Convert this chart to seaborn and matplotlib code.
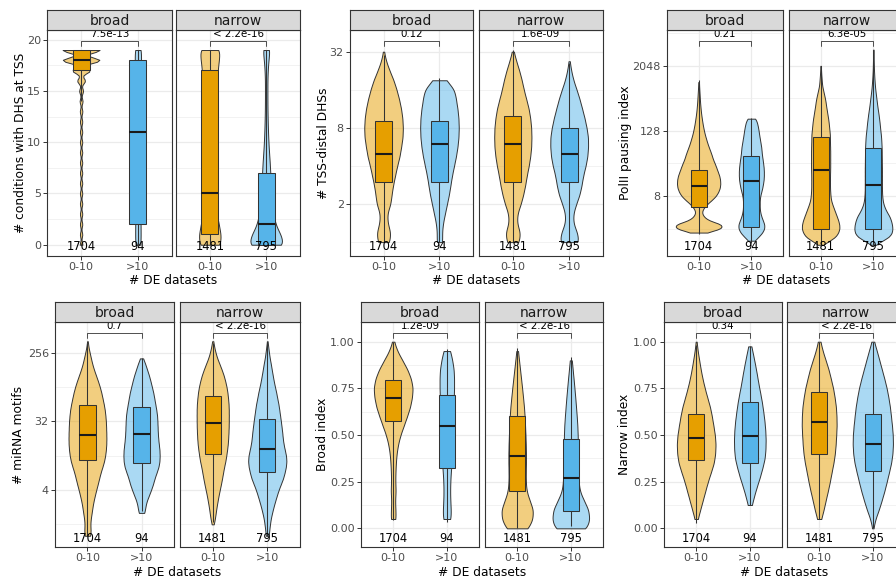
import numpy as np
import pandas as pd
import matplotlib
matplotlib.use("Agg")
import matplotlib.pyplot as plt
import seaborn as sns
from matplotlib.colors import to_rgba
from matplotlib.transforms import blended_transform_factory

# ------------------------------------------------------------------ data
groups = ["0-10", ">10"]
facets = ["broad", "narrow"]
n_genes = {"broad": [1704, 94], "narrow": [1481, 795]}
colors = ["#E69F00", "#56B4E9"]

# --- Plot 1: # conditions with DHS at TSS (integer values) ---
dhs_grid = [0, 1, 2, 3, 4, 5, 6, 7, 8, 9, 10, 11, 12, 13, 14, 15, 16, 17, 18, 19]
dhs_broad_lo = [1.4, 1.2, 1.2, 1.2, 1.2, 1.2, 1.2, 1.2, 1.2, 1.2, 1.2, 1.2, 1.2, 1.3, 1.5, 2.0, 4.0, 9.0, 19.0, 19.0]
dhs_broad_hi = [3, 3, 3, 2.5, 2.5, 2.5, 2.5, 2.5, 2.5, 2.5, 2.5, 2.5, 2.5, 2.5, 2.5, 2.5, 2.5, 3, 3.5, 3.5]
dhs_narrow_lo = [11, 11, 9, 7, 5.5, 5, 4.5, 4.5, 4.5, 4.5, 4.5, 4.5, 4.5, 4.8, 5.2, 6, 7, 8, 9, 10.5]
dhs_narrow_hi = [18, 14, 9, 7, 6, 5, 4.5, 4, 3.5, 2.8, 2.2, 1.8, 1.5, 1.3, 1.2, 1.2, 1.2, 1.5, 2.2, 3.5]
dhs_box_broad = [[14, 17, 18, 19, 19], [0, 2, 11, 18, 19]]
dhs_box_narrow = [[0, 1, 5, 17, 19], [0, 0, 2, 7, 19]]

# --- Plot 2: # TSS-distal DHSs (density profiles on log2 grid) ---
tss_grid_a = [0, 0.25, 0.5, 0.75, 1, 1.25, 1.5, 1.75, 2, 2.25, 2.5, 2.75, 3, 3.25, 3.5, 3.75, 4, 4.25, 4.5, 4.75, 5]
tss_grid_b = [0, 0.25, 0.5, 0.75, 1, 1.25, 1.5, 1.75, 2, 2.25, 2.5, 2.75, 3, 3.25, 3.5, 3.75, 4, 4.25]
tss_grid_c = [0, 0.25, 0.5, 0.75, 1, 1.25, 1.5, 1.75, 2, 2.25, 2.5, 2.75, 3, 3.25, 3.5, 3.75, 4, 4.25, 4.5, 4.75]
tss_broad_lo = [6, 7, 4, 3.5, 7, 8, 9.5, 11.5, 13.5, 16, 17.5, 19, 19.3, 18.8, 17.5, 15.5, 13, 10, 6, 2.5, 0.4]
tss_broad_hi = [3, 2.5, 3.5, 5.5, 7.5, 9.5, 11, 12.5, 14.5, 16.5, 18, 19, 19.3, 19, 18, 16.5, 15, 7]
tss_narrow_lo = [6.3, 7.5, 4, 4.5, 8, 10.5, 12.5, 14, 16, 17.5, 18.5, 18.7, 18.5, 17.5, 16, 13.5, 11, 9, 6.5, 3.5, 0.8]
tss_narrow_hi = [10, 8, 4, 4, 7, 10.5, 12.5, 14, 16.5, 18.3, 19, 19, 17.5, 15.5, 13, 10.5, 7.5, 4.2, 2, 0.5]
tss_box_broad = [[1, 3, 5, 9, 30], [1, 3, 6, 9, 20]]
tss_box_narrow = [[1, 3, 6, 10, 33], [1, 3, 5, 8, 26]]

# --- Plot 3: PolII pausing index (log2 grid) ---
pause_grid_bl = [0.75, 1, 1.25, 1.5, 1.75, 2, 2.25, 2.5, 2.75, 3, 3.25, 3.5, 3.75, 4, 4.25, 4.5, 4.75, 5, 5.25,
                 5.5, 5.75, 6, 6.25, 6.5, 6.75, 7, 7.25, 7.5, 7.75, 8, 8.25, 8.5, 8.75, 9, 9.25, 9.5, 9.75, 10]
pause_grid_bh = [0.25, 0.5, 0.75, 1, 1.25, 1.5, 1.75, 2, 2.25, 2.5, 2.75, 3, 3.25, 3.5, 3.75, 4, 4.25, 4.5, 4.75,
                 5, 5.25, 5.5, 5.75, 6, 6.25, 6.5, 6.75, 7, 7.25, 7.5, 7.75]
pause_grid_nl = [0, 0.25, 0.5, 0.75, 1, 1.25, 1.5, 1.75, 2, 2.25, 2.5, 2.75, 3, 3.25, 3.5, 3.75, 4, 4.25, 4.5, 4.75,
                 5, 5.25, 5.5, 5.75, 6, 6.25, 6.5, 6.75, 7, 7.25, 7.5, 7.75, 8, 8.25, 8.5, 8.75, 9, 9.25, 9.5, 9.75,
                 10, 10.25, 10.5, 10.75, 11]
pause_grid_nh = [0, 0.25, 0.5, 0.75, 1, 1.25, 1.5, 1.75, 2, 2.25, 2.5, 2.75, 3, 3.25, 3.5, 3.75, 4, 4.25, 4.5, 4.75,
                 5, 5.25, 5.5, 5.75, 6, 6.25, 6.5, 6.75, 7, 7.25, 7.5, 7.75, 8, 8.25, 8.5, 8.75, 9, 9.25, 9.5, 9.75,
                 10, 10.25, 10.5, 10.75, 11, 11.25, 11.5, 11.75, 12]
pause_broad_lo = [6, 20, 20, 8, 4, 2.5, 4, 7, 11, 14.5, 16.5, 17.8, 18.2, 18, 17.3, 16, 14.8, 13.5, 12, 11, 9.8, 8.5,
                  7.3, 6.3, 5.3, 4.5, 3.8, 3.2, 2.7, 2.2, 1.8, 1.5, 1.2, 1.0, 0.8, 0.6, 0.4, 0.3]
pause_broad_hi = [3, 7, 10.5, 12.5, 12.5, 11, 9.5, 8.5, 8, 8, 8, 8.5, 9.5, 10.5, 11.2, 11.8, 12, 12, 11.8, 11.3,
                  10.8, 10.2, 9.8, 9.5, 8.8, 8.2, 7.5, 7, 6.3, 5.5, 4]
pause_narrow_lo = [2, 9, 15, 17.5, 18.8, 18.5, 17.5, 16, 14.5, 13, 11.5, 10.3, 9.8, 9.5, 9.3, 9.3, 9.3, 9.3, 9.4, 9.5,
                   9.5, 9.5, 9.5, 9.5, 9.4, 9.3, 9.2, 9.2, 8.8, 8.4, 8, 7.5, 6.8, 6.2, 5.5, 5, 4.3, 3.4, 2.5, 1.6,
                   1.2, 0.9, 0.6, 0.4, 0.2]
pause_narrow_hi = [2, 9, 16, 18.5, 19, 18.5, 17.5, 16, 13.5, 11.5, 10, 9.2, 8.8, 8.6, 8.5, 8.5, 8.5, 8.5, 8.5, 8.5,
                   8.4, 8.4, 8.3, 8.3, 8.2, 8, 7.8, 7.5, 7, 6.6, 6.2, 5.7, 5.2, 4.6, 4, 3.5, 3, 2.5, 2, 1.6,
                   1.3, 1, 0.8, 0.6, 0.5, 0.4, 0.3, 0.2, 0.1]
pause_box_broad = [[1.6, 5, 12, 24, 1100], [1.1, 2.1, 15, 43, 220]]
pause_box_narrow = [[1, 2, 24, 100, 2000], [1, 2, 13, 63, 4000]]

# --- Plot 4: # miRNA motifs (log2 grid) ---
mir_grid_a = [0, 0.25, 0.5, 0.75, 1, 1.25, 1.5, 1.75, 2, 2.25, 2.5, 2.75, 3, 3.25, 3.5, 3.75, 4, 4.25, 4.5, 4.75,
              5, 5.25, 5.5, 5.75, 6, 6.25, 6.5, 6.75, 7, 7.25, 7.5, 7.75, 8, 8.25, 8.5]
mir_grid_bh = [1, 1.25, 1.5, 1.75, 2, 2.25, 2.5, 2.75, 3, 3.25, 3.5, 3.75, 4, 4.25, 4.5, 4.75, 5, 5.25, 5.5, 5.75,
               6, 6.25, 6.5, 6.75, 7, 7.25, 7.5, 7.75]
mir_grid_nl = [0.5, 0.75, 1, 1.25, 1.5, 1.75, 2, 2.25, 2.5, 2.75, 3, 3.25, 3.5, 3.75, 4, 4.25, 4.5, 4.75, 5, 5.25,
               5.5, 5.75, 6, 6.25, 6.5, 6.75, 7, 7.25, 7.5, 7.75, 8, 8.25, 8.5]
mir_broad_lo = [3, 3.2, 2.8, 3.3, 4.2, 5, 6, 7.3, 8.7, 10.2, 11.6, 13, 14.8, 16.5, 17.6, 18.3, 18.7, 18.8, 18.7, 18.5,
                18.3, 17.8, 17.2, 16.2, 15, 13.8, 12.3, 10.5, 8.5, 6.5, 4.8, 3.5, 2.2, 1, 0.3]
mir_broad_hi = [3, 3.8, 5, 7.3, 9.5, 11.5, 13, 15, 17, 18, 18.2, 18, 17.3, 16.7, 16.3, 16.1, 15.9, 15.6, 14.8, 13.8,
                12.8, 11.8, 10.4, 9, 7.5, 5.6, 3.8, 1.5]
mir_narrow_lo = [1, 2.2, 3, 3.8, 4.8, 5.8, 7, 8.2, 9.3, 10.3, 11.3, 12.6, 13.5, 14.3, 15, 15.4, 15.7, 15.9, 16, 16,
                 16, 15.8, 15.3, 14.7, 13.8, 12.5, 11, 9, 6.8, 4.5, 2.8, 1.5, 0.5]
mir_narrow_hi = [1.5, 2, 2.7, 3.5, 4.8, 6.2, 7.8, 9.5, 11.3, 13.5, 15.8, 17.3, 18.6, 19.2, 18.8, 17.5, 16.3, 15.5, 15,
                 14.3, 13.6, 12.8, 12, 11.2, 10, 9, 7.7, 6.5, 5.5, 4.5, 3.6, 2.5, 1.7, 1, 0.3]
mir_box_broad = [[1, 10, 21, 52, 340], [2.1, 9, 22, 50, 220]]
mir_box_narrow = [[1.5, 12, 30, 69, 345], [1, 7, 14, 34, 355]]

# --- Plot 5: Broad index ---
bidx_grid_bl = [0.05, 0.1, 0.15, 0.2, 0.25, 0.3, 0.35, 0.4, 0.45, 0.5, 0.55, 0.6, 0.65, 0.7, 0.75, 0.8, 0.85, 0.9, 0.95, 1.0]
bidx_grid_bh = [0.05, 0.1, 0.15, 0.2, 0.25, 0.3, 0.35, 0.4, 0.45, 0.5, 0.55, 0.6, 0.65, 0.7, 0.75, 0.8, 0.85, 0.9, 0.95]
bidx_grid_nl = [0.0, 0.05, 0.1, 0.15, 0.2, 0.25, 0.3, 0.35, 0.4, 0.45, 0.5, 0.55, 0.6, 0.65, 0.7, 0.75, 0.8, 0.85, 0.9, 0.95]
bidx_grid_nh = [0.0, 0.05, 0.1, 0.15, 0.2, 0.25, 0.3, 0.35, 0.4, 0.45, 0.5, 0.55, 0.6, 0.65, 0.7, 0.75, 0.8, 0.85, 0.9]
bidx_broad_lo = [2.5, 2.2, 1.8, 2.5, 2, 2.2, 2.6, 3.3, 4.7, 7, 10.3, 13.5, 16.5, 18.3, 19.2, 17.5, 14, 9, 4, 0.8]
bidx_broad_hi = [4, 4, 3.5, 3.3, 3.5, 4, 4.8, 5.3, 5.6, 5.8, 6, 6.3, 6.7, 7, 7.3, 7.3, 7, 5.5, 3.5]
bidx_narrow_lo = [11, 15, 15.5, 12, 9, 8.3, 8.3, 8.5, 8.5, 8.3, 8, 7.6, 7.2, 6.6, 5.7, 4.8, 3.8, 2.8, 1.8, 0.8]
bidx_narrow_hi = [16, 18, 17, 12.5, 8.5, 7.5, 7.3, 7.2, 7, 6.8, 6.6, 6.3, 5.7, 5, 4.3, 3.5, 2.7, 1.8, 1]
bidx_box_broad = [[0.045, 0.573, 0.70, 0.795, 1.0], [0.035, 0.321, 0.548, 0.715, 0.96]]
bidx_box_narrow = [[0.0, 0.198, 0.39, 0.603, 0.964], [0.01, 0.093, 0.271, 0.478, 0.92]]

# --- Plot 6: Narrow index ---
nidx_grid_bl = [0.05, 0.1, 0.15, 0.2, 0.25, 0.3, 0.35, 0.4, 0.45, 0.5, 0.55, 0.6, 0.65, 0.7, 0.75, 0.8, 0.85, 0.9, 0.95, 1.0]
nidx_grid_bh = [0.125, 0.175, 0.225, 0.275, 0.325, 0.375, 0.425, 0.475, 0.525, 0.575, 0.625, 0.675, 0.725, 0.775,
                0.825, 0.875, 0.925, 0.975]
nidx_grid_nh = [0.0, 0.05, 0.1, 0.15, 0.2, 0.25, 0.3, 0.35, 0.4, 0.45, 0.5, 0.55, 0.6, 0.65, 0.7, 0.75, 0.8, 0.85,
                0.9, 0.95, 1.0]
nidx_broad_lo = [1.5, 4, 6.5, 9, 11.5, 14.5, 17.5, 18.8, 19.2, 18.5, 17, 15.5, 13.7, 11, 8.5, 6.3, 4.5, 3, 1.5, 0.4]
nidx_broad_hi = [2, 4.3, 7, 10, 12.5, 14.8, 15.5, 15.7, 15.3, 14.5, 13.3, 12, 10.3, 8.5, 7, 5.3, 3.5, 1.5]
nidx_narrow_lo = [2, 4.5, 6.5, 8.7, 10.7, 12.4, 14.3, 15.7, 16.5, 17, 17.5, 17.3, 16.8, 15.5, 14, 11.7, 9.5, 6.5, 3.5, 1.2]
nidx_narrow_hi = [0.5, 2.5, 6, 8.8, 11.5, 13.8, 16, 18.2, 19.5, 20, 19.8, 19, 18, 17, 15.5, 13.8, 11.5, 9, 6.5, 4, 1.2]
nidx_box_broad = [[0.027, 0.366, 0.484, 0.614, 0.982], [0.125, 0.351, 0.496, 0.675, 0.975]]
nidx_box_narrow = [[0.048, 0.396, 0.568, 0.731, 1.0], [0.0, 0.307, 0.453, 0.612, 1.0]]

# p-value labels (broad, narrow)
pv_dhs = ["7.5e-13", "< 2.2e-16"]
pv_tss = ["0.12", "1.6e-09"]
pv_pause = ["0.21", "6.3e-05"]
pv_mir = ["0.7", "< 2.2e-16"]
pv_bidx = ["1.2e-09", "< 2.2e-16"]
pv_nidx = ["0.34", "< 2.2e-16"]

# ------------------------------------------------------------------ plot specs
plots = [
    dict(ylabel="# conditions with DHS at TSS", log2=False,
         grids={"broad": [dhs_grid, dhs_grid], "narrow": [dhs_grid, dhs_grid]},
         dens={"broad": [dhs_broad_lo, dhs_broad_hi], "narrow": [dhs_narrow_lo, dhs_narrow_hi]},
         boxes={"broad": dhs_box_broad, "narrow": dhs_box_narrow}, pv=pv_dhs,
         bw={"broad": [0.27, 0.6], "narrow": [0.6, 0.6]},
         vw={"broad": [0.65, 0.11], "narrow": [0.38, 0.56]},
         ylim=(-1.1, 20.95), yticks=[0, 5, 10, 15, 20], minor=[2.5, 7.5, 12.5, 17.5],
         row=0, cols=[(47, 172), (176, 300)], ylab_x=20),
    dict(ylabel="# TSS-distal DHSs", log2=True,
         grids={"broad": [tss_grid_a, tss_grid_b], "narrow": [tss_grid_a, tss_grid_c]},
         dens={"broad": [tss_broad_lo, tss_broad_hi], "narrow": [tss_narrow_lo, tss_narrow_hi]},
         boxes={"broad": tss_box_broad, "narrow": tss_box_narrow}, pv=pv_tss,
         bw={"broad": [0.15, 0.15], "narrow": [0.15, 0.15]},
         vw={"broad": [0.69, 0.69], "narrow": [0.66, 0.67]},
         ylim=(-0.365, 5.57), yticks=[1, 3, 5], minor=[0, 2, 4],
         row=0, cols=[(350, 473), (479, 603)], ylab_x=323),
    dict(ylabel="PolII pausing index", log2=True,
         grids={"broad": [pause_grid_bl, pause_grid_bh], "narrow": [pause_grid_nl, pause_grid_nh]},
         dens={"broad": [pause_broad_lo, pause_broad_hi], "narrow": [pause_narrow_lo, pause_narrow_hi]},
         boxes={"broad": pause_box_broad, "narrow": pause_box_narrow}, pv=pv_pause,
         bw={"broad": [0.15, 0.15], "narrow": [0.15, 0.15]},
         vw={"broad": [0.87, 0.49], "narrow": [0.71, 0.72]},
         ylim=(-0.69, 13.2), yticks=[3, 7, 11], minor=[1, 5, 9, 13],
         row=0, cols=[(667, 783), (789, 905)], ylab_x=625),
    dict(ylabel="# miRNA motifs", log2=True,
         grids={"broad": [mir_grid_a, mir_grid_bh], "narrow": [mir_grid_nl, mir_grid_a]},
         dens={"broad": [mir_broad_lo, mir_broad_hi], "narrow": [mir_narrow_lo, mir_narrow_hi]},
         boxes={"broad": mir_box_broad, "narrow": mir_box_narrow}, pv=pv_mir,
         bw={"broad": [0.15, 0.15], "narrow": [0.15, 0.15]},
         vw={"broad": [0.70, 0.67], "narrow": [0.59, 0.70]},
         ylim=(-0.49, 9.34), yticks=[2, 5, 8], minor=[0.5, 3.5, 6.5],
         row=1, cols=[(55, 174), (180, 300)], ylab_x=18),
    dict(ylabel="Broad index", log2=False,
         grids={"broad": [bidx_grid_bl, bidx_grid_bh], "narrow": [bidx_grid_nl, bidx_grid_nh]},
         dens={"broad": [bidx_broad_lo, bidx_broad_hi], "narrow": [bidx_narrow_lo, bidx_narrow_hi]},
         boxes={"broad": bidx_box_broad, "narrow": bidx_box_narrow}, pv=pv_bidx,
         bw={"broad": [0.03, 0.03], "narrow": [0.03, 0.03]},
         vw={"broad": [0.72, 0.27], "narrow": [0.58, 0.68]},
         ylim=(-0.1, 1.1056), yticks=[0, 0.25, 0.5, 0.75, 1.0], minor=[0.125, 0.375, 0.625, 0.875],
         row=1, cols=[(361, 479), (485, 603)], ylab_x=322),
    dict(ylabel="Narrow index", log2=False,
         grids={"broad": [nidx_grid_bl, nidx_grid_bh], "narrow": [nidx_grid_bl, nidx_grid_nh]},
         dens={"broad": [nidx_broad_lo, nidx_broad_hi], "narrow": [nidx_narrow_lo, nidx_narrow_hi]},
         boxes={"broad": nidx_box_broad, "narrow": nidx_box_narrow}, pv=pv_nidx,
         bw={"broad": [0.03, 0.03], "narrow": [0.03, 0.03]},
         vw={"broad": [0.72, 0.59], "narrow": [0.65, 0.75]},
         ylim=(-0.1, 1.1056), yticks=[0, 0.25, 0.5, 0.75, 1.0], minor=[0.125, 0.375, 0.625, 0.875],
         row=1, cols=[(664, 782), (787, 905)], ylab_x=624),
]

# ------------------------------------------------------------------ style / layout
sns.set_theme(style="white")
plt.rcParams["font.family"] = ["DejaVu Sans"]

W, H = 896, 580
fig = plt.figure(figsize=(W / 100, H / 100), dpi=100)
fig.patch.set_facecolor("white")

ROWS = [dict(strip=(9.5, 30), panel=(30, 256), xlab=280),
        dict(strip=(302, 322), panel=(322, 547), xlab=572)]
EDGE = "#333333"
GRID = "#EBEBEB"


def px_rect(x0, x1, y0, y1):
    return [x0 / W, 1 - y1 / H, (x1 - x0) / W, (y1 - y0) / H]


def tick_label(v, spec):
    if spec["log2"]:
        return str(int(round(2 ** v)))
    if spec["ylim"][1] < 2:
        return f"{v:.2f}"
    return str(int(v))


for spec in plots:
    row = ROWS[spec["row"]]
    for fi, facet in enumerate(facets):
        x0, x1 = spec["cols"][fi]
        ax = fig.add_axes(px_rect(x0, x1, *row["panel"]))
        sax = fig.add_axes(px_rect(x0, x1, *row["strip"]))

        # violins
        for gi in range(2):
            grid = np.asarray(spec["grids"][facet][gi], float)
            dens = np.asarray(spec["dens"][facet][gi], float)
            vals = np.repeat(grid, np.round(dens * 10).astype(int))
            vdf = pd.DataFrame({"grp": groups[gi], "val": vals})
            k0 = len(ax.collections)
            sns.violinplot(data=vdf, x="grp", y="val", order=groups, color=colors[gi],
                           saturation=1, inner=None, cut=0, width=spec["vw"][facet][gi],
                           density_norm="width",
                           bw_method=spec["bw"][facet][gi] / np.std(vals, ddof=1),
                           linecolor=EDGE, linewidth=0.7, ax=ax)
            for c in ax.collections[k0:]:
                c.set_facecolor(to_rgba(colors[gi], 0.5))

        # boxes
        bx = [np.asarray(b, float) for b in spec["boxes"][facet]]
        if spec["log2"]:
            bx = [np.log2(b) for b in bx]
        bdf = pd.DataFrame({"grp": np.repeat(groups, 5), "val": np.concatenate(bx)})
        sns.boxplot(data=bdf, x="grp", y="val", order=groups, hue="grp", hue_order=groups,
                    palette=colors, saturation=1, width=0.3, whis=(0, 100), showfliers=False,
                    linecolor=EDGE, linewidth=0.75, dodge=False, legend=False,
                    medianprops=dict(color="#1a1a1a", linewidth=1.5),
                    capprops=dict(linewidth=0), ax=ax)

        # axes cosmetics
        ax.set_xlim(-0.6, 1.6)
        ax.set_ylim(*spec["ylim"])
        ax.set_xlabel("")
        ax.set_ylabel("")
        ax.set_xticks([0, 1])
        ax.set_xticklabels(groups)
        ax.set_yticks(spec["yticks"])
        ax.set_yticklabels([tick_label(v, spec) for v in spec["yticks"]])
        ax.set_yticks(spec["minor"], minor=True)
        ax.set_axisbelow(True)
        ax.grid(False)
        ax.yaxis.grid(True, which="major", color=GRID, linewidth=0.9)
        ax.yaxis.grid(True, which="minor", color=GRID, linewidth=0.45)
        ax.xaxis.grid(True, which="major", color=GRID, linewidth=0.9)
        ax.set_facecolor("white")
        for sp in ax.spines.values():
            sp.set_visible(True)
            sp.set_color(EDGE)
            sp.set_linewidth(0.8)
        ax.tick_params(axis="both", which="major", length=3, width=0.7, color=EDGE,
                       labelsize=8, labelcolor="#4D4D4D", pad=1.5, bottom=True, left=(fi == 0),
                       labelleft=(fi == 0))
        ax.tick_params(axis="y", which="minor", length=0)

        trans = blended_transform_factory(ax.transData, ax.transAxes)
        for gi in range(2):
            ax.text(gi, 0.04, str(n_genes[facet][gi]), transform=trans, ha="center",
                    va="center", fontsize=8.3, color="black")
        ax.plot([0, 0, 1, 1], [0.93, 0.953, 0.953, 0.93], transform=trans, color=EDGE,
                lw=0.6, clip_on=False)
        ax.text(0.5, 0.982, spec["pv"][fi], transform=trans, ha="center", va="center",
                fontsize=7.4, color="black")

        # strip
        sax.set_facecolor("#D9D9D9")
        sax.set_xticks([])
        sax.set_yticks([])
        for sp in sax.spines.values():
            sp.set_visible(True)
            sp.set_color(EDGE)
            sp.set_linewidth(0.8)
        sax.text(0.5, 0.45, facet, transform=sax.transAxes, ha="center", va="center",
                 fontsize=10, color="#1A1A1A")

    # axis titles
    xb0 = spec["cols"][0][0]
    xn1 = spec["cols"][1][1]
    fig.text((xb0 + xn1) / 2 / W, 1 - row["xlab"] / H, "# DE datasets", ha="center",
             va="center", fontsize=8.8, color="black")
    pc = sum(row["panel"]) / 2
    fig.text(spec["ylab_x"] / W, 1 - pc / H, spec["ylabel"], rotation=90, ha="center",
             va="center", fontsize=8.8, color="black")

fig.savefig("out.png", dpi=100, facecolor="white")
